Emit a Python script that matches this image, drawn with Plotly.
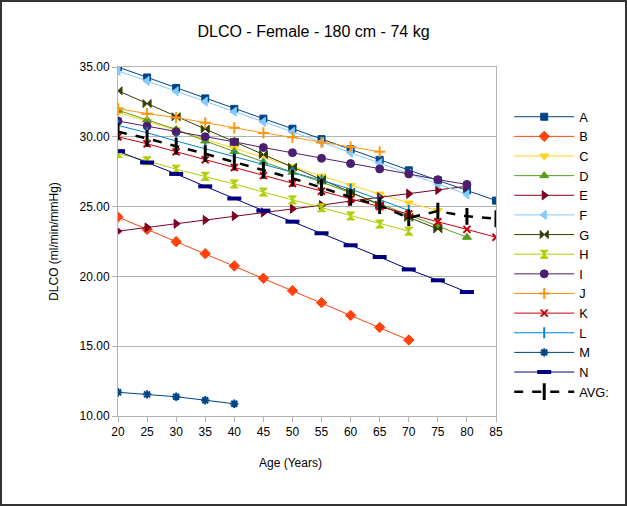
import plotly.graph_objects as go

ages = [20, 25, 30, 35, 40, 45, 50, 55, 60, 65, 70, 75, 80, 85]

A = [35.0, 34.25, 33.5, 32.75, 32.0, 31.3, 30.58, 29.83, 29.1, 28.35, 27.6, 26.88, 26.16, 25.43]
B = [24.25, 23.37, 22.49, 21.63, 20.75, 19.87, 18.98, 18.12, 17.21, 16.35, 15.44]
C = [31.75, 31.1, 30.5, 29.85, 29.2, 28.55, 27.88, 27.19, 26.52, 25.9, 25.26, 24.72]
D = [31.9, 31.2, 30.53, 29.7, 28.94, 28.18, 27.46, 26.76, 26.0, 25.2, 24.4, 23.6, 22.8]
E = [23.24, 23.5, 23.77, 24.04, 24.32, 24.58, 24.85, 25.1, 25.4, 25.67, 25.92, 26.2, 26.46]
F = [34.72, 34.0, 33.25, 32.52, 31.8, 31.07, 30.35, 29.62, 28.85, 28.1, 27.36, 26.62, 25.87]
G = [33.3, 32.38, 31.44, 30.55, 29.62, 28.73, 27.83, 26.95, 26.04, 25.12, 24.23, 23.4]
H = [28.8, 28.28, 27.68, 27.17, 26.62, 26.04, 25.48, 24.92, 24.33, 23.75, 23.24]
I = [31.13, 30.77, 30.36, 30.0, 29.64, 29.23, 28.86, 28.46, 28.08, 27.7, 27.34, 26.93, 26.59]
J = [32.02, 31.66, 31.38, 31.0, 30.64, 30.28, 29.96, 29.6, 29.27, 28.93]
K = [30.0, 29.5, 28.93, 28.36, 27.8, 27.22, 26.66, 26.1, 25.55, 25.0, 24.47, 23.92, 23.37, 22.8]
L = [30.82, 30.29, 29.7, 29.15, 28.6, 28.02, 27.46, 26.88, 26.25, 25.5, 24.72]
M = [11.7, 11.55, 11.38, 11.13, 10.88]
N = [28.97, 28.16, 27.34, 26.45, 25.58, 24.71, 23.92, 23.09, 22.23, 21.39, 20.5, 19.72, 18.88]
AVG = [30.36, 29.88, 29.32, 28.79, 28.19, 27.6, 27.03, 26.36, 25.67, 25.07, 24.2, 24.68, 24.3, 24.13]

series = [
    ("A", A, "#004586", "square", 7, 1),
    ("B", B, "#ff420e", "diamond", 8, 1),
    ("C", C, "#ffd320", "triangle-down", 8, 1),
    ("D", D, "#579d1c", "triangle-up", 8, 1),
    ("E", E, "#7e0021", "triangle-right", 8, 1),
    ("F", F, "#83caff", "triangle-left", 8, 1),
    ("G", G, "#314004", "bowtie", 8, 1),
    ("H", H, "#aecf00", "hourglass", 8, 1),
    ("I", I, "#4b1f6f", "circle", 8, 1),
    ("J", J, "#ff950e", "cross-thin-open", 8, 2),
    ("K", K, "#c5000b", "x-thin-open", 7, 2),
    ("L", L, "#0084d1", "line-ns-open", 8, 2),
    ("M", M, "#004586", "asterisk-open", 7, 2),
    ("N", N, "#000080", "line-ew-open", 10, 4),
]

fig = go.Figure()
for name, vals, color, sym, size, lw in series:
    fig.add_trace(go.Scatter(
        x=ages[:len(vals)], y=vals, name=name, mode="lines+markers",
        line=dict(color=color, width=1),
        marker=dict(symbol=sym, size=size, color=color, line=dict(color=color, width=lw)),
    ))

fig.add_trace(go.Scatter(
    x=ages[:len(AVG)], y=AVG, name="AVG:", mode="lines+markers",
    line=dict(color="black", width=2.5, dash="dash"),
    marker=dict(symbol="line-ns-open", size=12, color="black", line=dict(color="black", width=3)),
))

font = "Liberation Sans, Arial, sans-serif"
fig.update_layout(
    width=627, height=506,
    margin=dict(l=118, r=131, t=67, b=90),
    paper_bgcolor="white", plot_bgcolor="white",
    font=dict(family=font, size=12, color="black"),
    title=dict(text="DLCO - Female - 180 cm - 74 kg", x=0.5, xref="container", xanchor="center",
               y=1 - 31 / 506, yref="container", yanchor="middle",
               font=dict(size=16, family=font, color="black")),
    showlegend=True,
    legend=dict(x=1.035, y=0.90, xanchor="left", yanchor="top", font=dict(size=12.8, family=font),
                bgcolor="rgba(0,0,0,0)", borderwidth=0, tracegroupgap=0, itemwidth=60),
    xaxis=dict(range=[20, 85], dtick=5, tick0=20, showgrid=False, showline=True, linecolor="#b3b3b3",
               linewidth=1, mirror=True, ticks="outside", ticklen=5, tickcolor="#b3b3b3",
               zeroline=False, tickfont=dict(size=12, color="black")),
    yaxis=dict(range=[10, 35], dtick=5, tick0=10, tickformat=".2f", showgrid=True, gridcolor="#b3b3b3",
               showline=True, linecolor="#b3b3b3", linewidth=1, mirror=True, ticks="outside", ticklen=5,
               tickcolor="#b3b3b3", zeroline=False, tickfont=dict(size=12, color="black"),
               title=dict(text="DLCO (ml/min/mmHg)", font=dict(size=12), standoff=18)),
    annotations=[dict(text="Age (Years)", x=(290 - 118) / 378, y=(416 - 463) / 349, xref="paper", yref="paper",
                      showarrow=False, xanchor="center", yanchor="middle", font=dict(size=12, family=font))],
    shapes=[dict(type="rect", xref="paper", yref="paper",
                 x0=(1 - 118) / 378, x1=(626 - 118) / 378, y0=(416 - 505) / 349, y1=(416 - 1) / 349,
                 line=dict(color="#333333", width=2), fillcolor="rgba(0,0,0,0)", layer="above")],
)

fig.write_html("out.html", config={"displayModeBar": False},
               post_script="document.body.style.margin='0';document.body.style.padding='0';"
                           "document.body.style.overflow='hidden';")
